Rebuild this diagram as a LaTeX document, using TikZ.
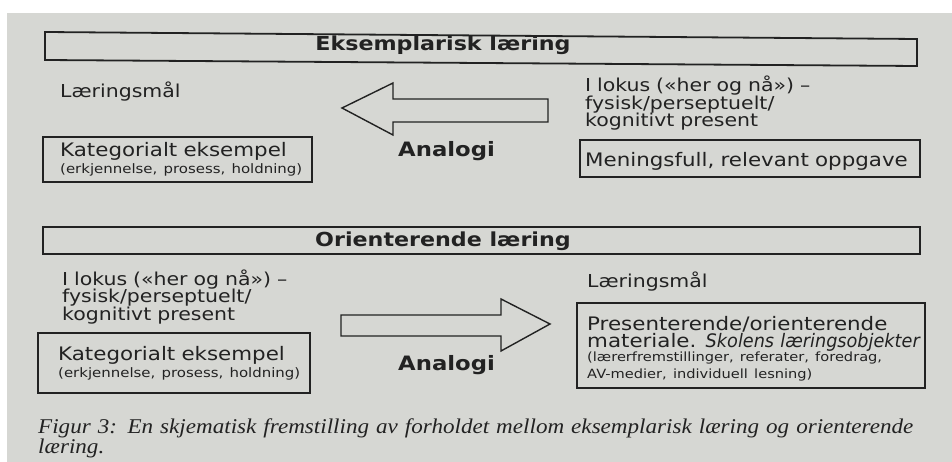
\documentclass[tikz,border=0pt]{standalone}
\usepackage{fontspec}
\setmainfont{Liberation Serif}
\newfontfamily\diagfont[FakeStretch=1.15]{DejaVu Sans}
\newfontfamily\diagitfont[FakeStretch=0.95]{DejaVu Sans}
\newfontfamily\capfont[FakeStretch=1.1]{Liberation Serif}
\usetikzlibrary{positioning}
\lineskiplimit=-100pt
\definecolor{pagegray}{RGB}{214,215,211}
\definecolor{inkgray}{RGB}{34,34,34}
\tikzstyle{box} = [draw=inkgray, line width=1.8pt]
\tikzstyle{blockarrow} = [draw=inkgray, line width=1.4pt, line join=miter]
\tikzstyle{txt} = [anchor=base west, inner sep=0pt, text=inkgray, text width=360pt, align=left, font=\diagfont\fontsize{17.8}{17.5}\selectfont]
\tikzstyle{boxtxt} = [txt, font=\diagfont\fontsize{18.6}{17}\selectfont]
\tikzstyle{heading} = [anchor=base, inner sep=0pt, text=inkgray, font=\diagfont\bfseries\fontsize{19.3}{19}\selectfont]
\tikzstyle{analogi} = [anchor=base west, inner sep=0pt, text=inkgray, font=\diagfont\bfseries\fontsize{19.8}{20}\selectfont]
\tikzstyle{caption} = [anchor=base west, inner sep=0pt, text=inkgray, text width=897pt, align=left, font=\capfont\itshape\fontsize{21}{20}\selectfont]
\newcommand{\smalltext}{\fontsize{13}{15}\selectfont}
\newcommand{\smallertext}{\fontsize{12.7}{14}\selectfont}

\begin{document}
\begin{tikzpicture}[x=1pt, y=-1pt]
	\useasboundingbox (0,0) rectangle (952,462);
	\fill[white] (0,0) rectangle (952,462);
	\fill[pagegray] (7,13) rectangle (952,462);

	% eksemplarisk laering
	\draw[box] (45,32) -- (917,39) -- (917,66) -- (45,60) -- cycle;
	\node[heading] (eksTitle) at (443,51) {Eksemplarisk læring};
	\node[txt] (eksMaal) at (60,98) {Læringsmål};
	\draw[box] (43,137) rectangle (312,182);
	\node[boxtxt] (eksKat) at (60,157) {Kategorialt eksempel\par\smalltext (erkjennelse, prosess, holdning)};
	\draw[blockarrow] (548,99) -- (393,99) -- (393,83) -- (342,108) -- (393,135) -- (393,122) -- (548,122) -- cycle;
	\node[analogi] (eksAnalogi) at (398,157) {Analogi};
	\node[txt] (eksLokus) at (585,92) {I lokus («her og nå») –\\fysisk/perseptuelt/\\kognitivt present};
	\draw[box] (580,140) rectangle (920,177);
	\node[boxtxt] (eksOppgave) at (585,167) {Meningsfull, relevant oppgave};

	% orienterende laering
	\draw[box] (43,227) rectangle (920,254);
	\node[heading] (oriTitle) at (443,247) {Orienterende læring};
	\node[txt] (oriLokus) at (62,285) {I lokus («her og nå») –\\fysisk/perseptuelt/\\kognitivt present};
	\draw[box] (38,333) rectangle (310,393);
	\node[boxtxt] (oriKat) at (58,360) {Kategorialt eksempel\par\smalltext (erkjennelse, prosess, holdning)};
	\draw[blockarrow] (341,315) -- (501,315) -- (501,299) -- (550,324) -- (501,351) -- (501,336) -- (341,336) -- cycle;
	\node[analogi] (oriAnalogi) at (398,370) {Analogi};
	\node[txt] (oriMaal) at (587,287) {Læringsmål};
	\draw[box] (577,303) rectangle (925,388);
	\node[boxtxt] (oriMat) at (587,330) {Presenterende/orienterende\\materiale. {\diagitfont\itshape Skolens læringsobjekter}\par\smallertext (lærerfremstillinger, referater, foredrag,\\AV-medier, individuell lesning)};

	% figurtekst
	\node[caption] (figCap) at (38,433) {\makebox[897pt][s]{Figur 3: En skjematisk fremstilling av forholdet mellom eksemplarisk læring og orienterende}\\læring.};
\end{tikzpicture}
\end{document}
